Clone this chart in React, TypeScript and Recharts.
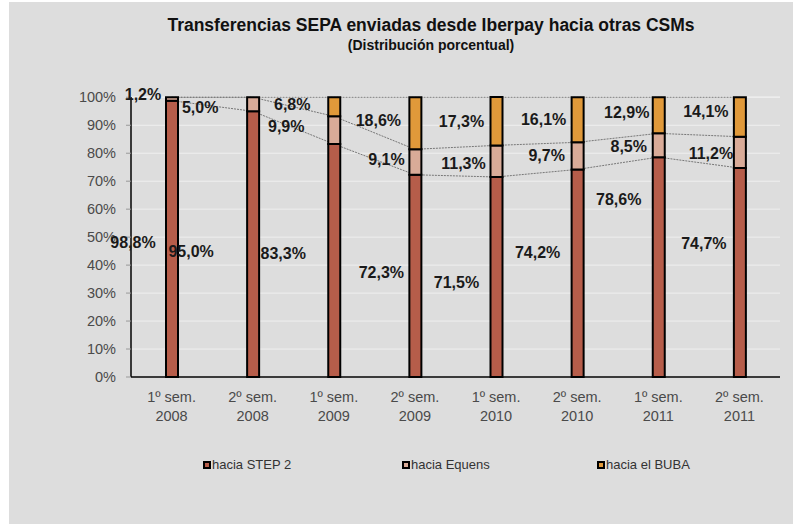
import React from 'react';
import { ComposedChart, Bar, Line, XAxis, YAxis, CartesianGrid, LabelList } from 'recharts';

// ---- data ----
const semesters = ['1º sem.', '2º sem.', '1º sem.', '2º sem.', '1º sem.', '2º sem.', '1º sem.', '2º sem.'];
const years = ['2008', '2008', '2009', '2009', '2010', '2010', '2011', '2011'];
const step2 = [98.8, 95.0, 83.3, 72.3, 71.5, 74.2, 78.6, 74.7];
const equens = [1.2, 5.0, 9.9, 9.1, 11.3, 9.7, 8.5, 11.2];
const buba = [0, 0, 6.8, 18.6, 17.3, 16.1, 12.9, 14.1];
const yTicks = [0, 10, 20, 30, 40, 50, 60, 70, 80, 90, 100];
const seriesNames = ['hacia STEP 2', 'hacia Equens', 'hacia el BUBA'];

// ---- style ----
const COLORS = ['#b65d4a', '#d9ab98', '#e0993a'];
const BG = '#dddddd';
const FONT = '"Liberation Sans", Arial, sans-serif';

// label nudges (px) relative to bar centre / segment middle, as placed in the original
const nudgeStep2 = [[-39, 4], [-62, 7], [-51, -7], [-34, -3], [-40, 5], [-40, -21], [-40, -68], [-36, -29]];
const nudgeEquens = [[-29, -4], [-53, 3], [-48, -4], [-29, -3], [-33, 2], [-31, 0], [-30, 1], [-29, 1]];
const nudgeBuba = [[0, 0], [0, 0], [-42, -2], [-37, -3], [-35, 0], [-34, 0], [-32, -3], [-34, -6]];

const data = semesters.map((s, i) => ({
  idx: i,
  cat: `${s}|${years[i]}`,
  step2: step2[i],
  equens: equens[i],
  buba: buba[i],
  cum1: step2[i],
  cum2: +(step2[i] + equens[i]).toFixed(1),
  cum3: 100,
}));

const fmt = (v: number) => v.toFixed(1).replace('.', ',') + '%';

const makeLabel = (values: number[], nudge: number[][]) => (props: any) => {
  const vb = props.viewBox || {};
  const x = vb.x ?? props.x;
  const y = vb.y ?? props.y;
  const w = vb.width ?? props.width;
  const h = vb.height ?? props.height;
  const index = Number(props.value);
  const value = values[index];
  if (!value || x == null) return null;
  const [dx, dy] = nudge[index] || [0, 0];
  const cx = x + w / 2 + dx;
  const cy = Math.min(y, y + h) + Math.abs(h) / 2 + dy;
  return (
    <text x={cx} y={cy} textAnchor="middle" dominantBaseline="central"
      style={{ fontFamily: FONT, fontWeight: 'bold', fontSize: 16, fill: '#1a1a1a' }}>
      {fmt(value)}
    </text>
  );
};

const XTick = (props: any) => {
  const { x, y, payload } = props;
  const [a, b] = String(payload.value).split('|');
  return (
    <g>
      <text x={x} y={y + 12} textAnchor="middle" dominantBaseline="central"
        style={{ fontFamily: FONT, fontSize: 14.5, fill: '#4a4a4a' }}>{a}</text>
      <text x={x} y={y + 31} textAnchor="middle" dominantBaseline="central"
        style={{ fontFamily: FONT, fontSize: 14.5, fill: '#4a4a4a' }}>{b}</text>
    </g>
  );
};

export default function App() {
  return (
    <div style={{ position: 'absolute', left: 9, top: 2, width: 784, height: 522, background: BG, fontFamily: FONT }}>
      <div style={{ position: 'absolute', left: 422, top: 13, transform: 'translateX(-50%)', whiteSpace: 'nowrap',
        fontWeight: 'bold', fontSize: 17.5, color: '#111', lineHeight: '20px' }}>
        Transferencias SEPA enviadas desde Iberpay hacia otras CSMs
      </div>
      <div style={{ position: 'absolute', left: 422, top: 34, transform: 'translateX(-50%)', whiteSpace: 'nowrap',
        fontWeight: 'bold', fontSize: 14, color: '#111', lineHeight: '18px' }}>
        (Distribución porcentual)
      </div>
      <div style={{ position: 'absolute', left: 0, top: 0 }}>
        <ComposedChart width={784} height={522} data={data}
          margin={{ top: 95, right: 13, bottom: 97, left: 0 }} barCategoryGap={0}>
          <CartesianGrid vertical={false} stroke="#efefef" strokeWidth={1} />
          <XAxis xAxisId="b" type="number" domain={[0, 8]} ticks={[0, 1, 2, 3, 4, 5, 6, 7, 8]}
            allowDataOverflow height={0} tick={false} axisLine={false}
            tickLine={{ stroke: '#888' }} tickSize={5} />
          <XAxis dataKey="cat" height={50} tick={<XTick />} tickLine={false}
            axisLine={{ stroke: '#000', strokeWidth: 1.5 }} interval={0} />
          <YAxis domain={[0, 100]} ticks={yTicks} width={122} tickFormatter={(v: number) => `${v}%`}
            axisLine={{ stroke: '#000', strokeWidth: 1.5 }} tickLine={{ stroke: '#999' }} tickSize={5} tickMargin={10}
            tick={{ fill: '#4a4a4a', fontSize: 14.5, fontFamily: FONT }} interval={0} />
          <Line dataKey="cum1" stroke="#777" strokeWidth={1} strokeDasharray="2 1" dot={false}
            isAnimationActive={false} legendType="none" zIndex={250} />
          <Line dataKey="cum2" stroke="#777" strokeWidth={1} strokeDasharray="2 1" dot={false}
            isAnimationActive={false} legendType="none" zIndex={250} />
          <Line dataKey="cum3" stroke="#777" strokeWidth={1} strokeDasharray="2 1" dot={false}
            isAnimationActive={false} legendType="none" zIndex={250} />
          <Bar dataKey="step2" stackId="s" fill={COLORS[0]} stroke="#000" strokeWidth={2} barSize={12}
            isAnimationActive={false}>
            <LabelList dataKey="idx" content={makeLabel(step2, nudgeStep2)} />
          </Bar>
          <Bar dataKey="equens" stackId="s" fill={COLORS[1]} stroke="#000" strokeWidth={2} barSize={12}
            isAnimationActive={false}>
            <LabelList dataKey="idx" content={makeLabel(equens, nudgeEquens)} />
          </Bar>
          <Bar dataKey="buba" stackId="s" fill={COLORS[2]} stroke="#000" strokeWidth={2} barSize={12}
            isAnimationActive={false}>
            <LabelList dataKey="idx" content={makeLabel(buba, nudgeBuba)} />
          </Bar>
        </ComposedChart>
      </div>
      {seriesNames.map((name, i) => (
        <div key={name} style={{ position: 'absolute', left: [194, 393, 588][i], top: 455, height: 16,
          display: 'flex', alignItems: 'center', whiteSpace: 'nowrap' }}>
          <span style={{ display: 'inline-block', width: 4, height: 4, border: '2px solid #000',
            background: COLORS[i], marginRight: 1 }} />
          <span style={{ fontSize: 13, color: '#333', lineHeight: '16px' }}>{name}</span>
        </div>
      ))}
    </div>
  );
}
